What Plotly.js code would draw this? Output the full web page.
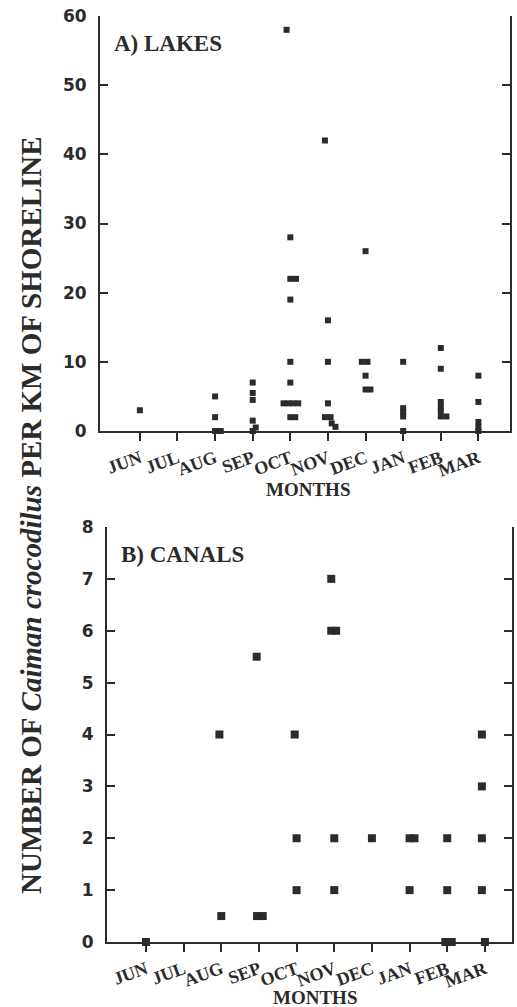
<!DOCTYPE html>
<html>
<head>
<meta charset="utf-8">
<script src="https://cdn.plot.ly/plotly-3.0.1.min.js"></script>
<style>
  html, body { margin: 0; padding: 0; background: #fff; }
  #chart { width: 517px; height: 1007px; }
</style>
</head>
<body>
<div id="chart"></div>
<script>
// ---- data ----
const months = ["JUN", "JUL", "AUG", "SEP", "OCT", "NOV", "DEC", "JAN", "FEB", "MAR"];
const monthIndex = [0, 1, 2, 3, 4, 5, 6, 7, 8, 9];

// A) Lakes: month position (index, small offsets where marks overlap) and value
const lakesMonth = [0,
  2, 2, 2, 2.15,
  3, 3, 3, 3, 3.08, 3,
  3.9, 4, 4, 4.15, 4, 4, 4, 3.82, 3.95, 4.08, 4.21, 4, 4.13,
  4.92, 5, 5, 5, 4.92, 5.07, 5.1, 5.2,
  6, 5.9, 6.05, 6, 6, 6.13,
  7, 7, 7, 7, 7,
  8, 8, 8, 8, 8, 8, 8.15,
  9, 9, 9, 9, 9];
const lakesValue = [3,
  5, 2, 0, 0,
  7, 5.5, 4.5, 1.5, 0.5, 0,
  58, 28, 22, 22, 19, 10, 7, 4, 4, 4, 4, 2, 2,
  42, 16, 10, 4, 2, 2, 1.1, 0.6,
  26, 10, 10, 8, 6, 6,
  10, 3.3, 2.7, 2.1, 0,
  12, 9, 4.2, 3.5, 2.9, 2.1, 2.1,
  8, 4.2, 1.3, 0.5, 0];

// B) Canals
const canalsMonth = [0,
  1.95, 2,
  2.94, 2.95, 3.1,
  3.95, 4, 4,
  4.92, 4.92, 5.05, 5, 5,
  6,
  7, 7.13, 7,
  8, 8, 7.95, 8.12,
  8.92, 8.92, 8.92, 8.92, 9];
const canalsValue = [0,
  4, 0.5,
  5.5, 0.5, 0.5,
  4, 2, 1,
  7, 6, 6, 2, 1,
  2,
  2, 2, 1,
  2, 1, 0, 0,
  4, 3, 2, 1, 0];

const lakesTicks = [0, 10, 20, 30, 40, 50, 60];
const canalsTicks = [0, 1, 2, 3, 4, 5, 6, 7, 8];
const topTickIndex = [0, 1, 2, 3, 4, 5, 6, 7, 8];

// ---- styling ----
const W = 517, H = 1007;
const ink = "#2b2b2b";
const serif = "Liberation Serif, Times New Roman, serif";
const sans = "DejaVu Sans, Liberation Sans, sans-serif";

const px = v => v / W;
const py = v => (H - v) / H;

const xRangeA = [-1.06, 9.84];
const xRangeB = [-1.035, 9.72];

const baseX = {
  tickmode: "array", tickvals: monthIndex, ticktext: months,
  ticks: "outside", ticklen: 8, tickwidth: 2, tickcolor: ink,
  showline: true, linewidth: 2, linecolor: ink, mirror: false,
  showgrid: false, zeroline: false, tickangle: -20,
  tickfont: { family: serif, size: 18, color: ink, weight: "bold" },
  fixedrange: true
};
const baseTop = {
  tickmode: "array", tickvals: topTickIndex, showticklabels: false,
  ticks: "inside", ticklen: 8, tickwidth: 2, tickcolor: ink,
  showline: true, linewidth: 2, linecolor: ink,
  showgrid: false, zeroline: false, side: "top", fixedrange: true
};
const baseY = {
  ticks: "inside", ticklen: 8, tickwidth: 2, tickcolor: ink,
  showline: true, linewidth: 2, linecolor: ink, mirror: "ticks",
  showgrid: false, zeroline: false, tickmode: "array",
  tickfont: { family: sans, size: 17, color: ink, weight: "bold" },
  ticklabelstandoff: 8, fixedrange: true
};

const traces = [
  {
    x: lakesMonth, y: lakesValue, xaxis: "x", yaxis: "y",
    type: "scatter", mode: "markers", cliponaxis: false,
    marker: { symbol: "square", size: 6, color: ink },
    hoverinfo: "x+y", name: "Lakes"
  },
  {
    x: canalsMonth, y: canalsValue, xaxis: "x2", yaxis: "y2",
    type: "scatter", mode: "markers", cliponaxis: false,
    marker: { symbol: "square", size: 8, color: ink },
    hoverinfo: "x+y", name: "Canals"
  }
];

const layout = {
  width: W, height: H,
  margin: { l: 0, r: 0, t: 0, b: 0 },
  paper_bgcolor: "#fff", plot_bgcolor: "#fff",
  showlegend: false,
  xaxis: Object.assign({}, baseX, { domain: [px(100), px(510)], range: xRangeA, anchor: "y" }),
  xaxis3: Object.assign({}, baseTop, { domain: [px(100), px(510)], range: xRangeA, anchor: "y", overlaying: "x" }),
  yaxis: Object.assign({}, baseY, { domain: [py(431), py(16)], range: [0, 60], tickvals: lakesTicks, anchor: "x" }),
  xaxis2: Object.assign({}, baseX, { domain: [px(107), px(512)], range: xRangeB, anchor: "y2" }),
  xaxis4: Object.assign({}, baseTop, { domain: [px(107), px(512)], range: xRangeB, anchor: "y2", overlaying: "x2" }),
  yaxis2: Object.assign({}, baseY, { domain: [py(942), py(527)], range: [0, 8], tickvals: canalsTicks, anchor: "x2" }),
  annotations: [
    { text: "A) LAKES", xref: "paper", yref: "paper", x: px(112), y: py(43),
      xanchor: "left", yanchor: "middle", showarrow: false,
      font: { family: serif, size: 23, color: ink, weight: "bold" } },
    { text: "B) CANALS", xref: "paper", yref: "paper", x: px(119), y: py(554),
      xanchor: "left", yanchor: "middle", showarrow: false,
      font: { family: serif, size: 23, color: ink, weight: "bold" } },
    { text: "MONTHS", xref: "paper", yref: "paper", x: px(308), y: py(490),
      xanchor: "center", yanchor: "middle", showarrow: false,
      font: { family: serif, size: 19, color: ink, weight: "bold" } },
    { text: "MONTHS", xref: "paper", yref: "paper", x: px(315), y: py(997),
      xanchor: "center", yanchor: "middle", showarrow: false,
      font: { family: serif, size: 19, color: ink, weight: "bold" } },
    { text: "NUMBER OF <i>Caiman crocodilus</i> PER KM OF SHORELINE",
      xref: "paper", yref: "paper", x: px(31), y: py(515), textangle: -90,
      xanchor: "center", yanchor: "middle", showarrow: false,
      font: { family: serif, size: 29, color: ink, weight: "bold" } }
  ]
};

Plotly.newPlot("chart", traces, layout, { displayModeBar: false, staticPlot: true });
</script>
</body>
</html>
